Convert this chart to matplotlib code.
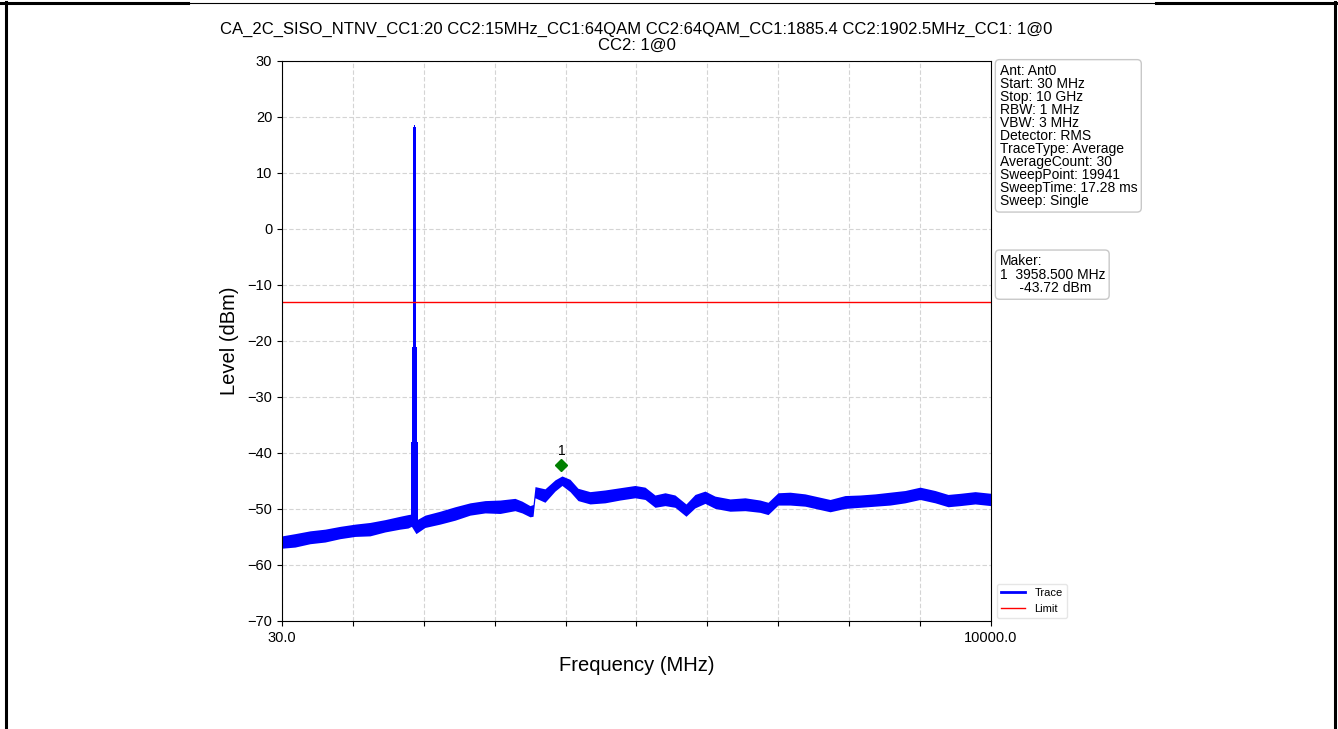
import matplotlib
matplotlib.use('Agg')
import matplotlib.pyplot as plt
from matplotlib.lines import Line2D
import numpy as np

plt.rcParams['font.family'] = ['Liberation Sans', 'DejaVu Sans']

# Noise floor of the sweep (MHz / dBm, upper and lower edge of the band)
trace_freq = [30, 213, 424, 635, 846, 1057, 1267, 1478, 1689, 1802,
              1850, 1914, 2041, 2252, 2463, 2674, 2885, 3096, 3306, 3405,
              3517, 3560, 3588, 3728, 3869, 3967, 4080, 4192, 4361, 4572,
              4783, 4994, 5135, 5275, 5416, 5556, 5711, 5838, 5978, 6119,
              6330, 6541, 6752, 6865, 7005, 7174, 7385, 7596, 7737, 7947,
              8158, 8369, 8580, 8791, 9002, 9213, 9396, 9565, 9776, 10000]
trace_high = [-54.8, -54.4, -53.9, -53.6, -53.1, -52.7, -52.4, -51.9, -51.3, -51.0,
              -50.9, -52.0, -51.1, -50.4, -49.6, -48.9, -48.5, -48.4, -48.1, -48.6,
              -49.4, -49.2, -46.0, -46.4, -44.8, -44.1, -44.7, -46.3, -46.9, -46.6,
              -46.2, -45.8, -46.1, -47.5, -47.1, -47.5, -49.1, -47.4, -46.8, -47.7,
              -48.2, -48.0, -48.4, -48.8, -47.1, -47.0, -47.3, -47.9, -48.3, -47.6,
              -47.5, -47.3, -47.0, -46.7, -46.1, -46.7, -47.4, -47.2, -46.9, -47.2]
trace_low = [-57.0, -56.8, -56.2, -55.9, -55.3, -54.9, -54.8, -54.1, -53.6, -53.4,
             -53.1, -54.4, -53.3, -52.7, -52.0, -51.1, -50.7, -50.8, -50.3, -50.7,
             -51.4, -51.3, -48.0, -48.8, -46.8, -45.8, -46.9, -48.5, -49.1, -48.9,
             -48.4, -48.0, -48.3, -49.7, -49.4, -49.7, -51.3, -49.8, -49.0, -49.9,
             -50.4, -50.3, -50.6, -51.0, -49.3, -49.3, -49.5, -50.1, -50.5, -49.9,
             -49.7, -49.5, -49.3, -48.9, -48.3, -48.9, -49.6, -49.4, -49.1, -49.4]

# carrier (CC1 1885.4 + CC2 1902.5 MHz)
spike_freq = [1843, 1860, 1878, 1893, 1908, 1926, 1943]
spike_level = [-38, -21, 18.2, 18.6, 18.2, -21, -38]
spike_base = -53

limit_level = -13
marker_freq = 3958.5
marker_level = -43.72

x_start, x_stop = 30.0, 10000.0
y_ticks = [30, 20, 10, 0, -10, -20, -30, -40, -50, -60, -70]

title = ('CA_2C_SISO_NTNV_CC1:20 CC2:15MHz_CC1:64QAM CC2:64QAM_CC1:1885.4 '
         'CC2:1902.5MHz_CC1: 1@0\nCC2: 1@0')
info_lines = ['Ant: Ant0', 'Start: 30 MHz', 'Stop: 10 GHz', 'RBW: 1 MHz', 'VBW: 3 MHz',
              'Detector: RMS', 'TraceType: Average', 'AverageCount: 30',
              'SweepPoint: 19941', 'SweepTime: 17.28 ms', 'Sweep: Single']
marker_lines = ['Maker:', '1  3958.500 MHz', '     -43.72 dBm']

W, H = 1338, 729
fig = plt.figure(figsize=(W / 100, H / 100), dpi=100)
ax = fig.add_axes([282 / W, 1 - 621 / H, 709 / W, 560 / H])

ax.fill_between(trace_freq, trace_low, trace_high, color='blue', lw=0)
ax.fill_between(spike_freq, spike_base, spike_level, step='mid', color='blue', lw=0)
ax.axhline(limit_level, color='red', lw=1)

ax.plot(marker_freq, marker_level + 1.6, 'D', color='green', markersize=6)
ax.annotate('1', (marker_freq, marker_level + 1.6), xytext=(0, 5), textcoords='offset points',
            ha='center', va='bottom', fontsize=10)

ax.set_xlim(x_start, x_stop)
ax.set_ylim(-70, 30)
xt = np.linspace(x_start, x_stop, 11)
ax.set_xticks(xt)
ax.set_xticklabels(['30.0'] + [''] * 9 + ['10000.0'], fontsize=10.5)
ax.set_yticks(y_ticks)
ax.tick_params(axis='y', labelsize=10.5)
ax.grid(True, color='#d4d4d4', linestyle=(0, (4, 2)), lw=0.8)
ax.set_axisbelow(True)

ax.set_xlabel('Frequency (MHz)', fontsize=14.5, labelpad=8)
ax.set_ylabel('Level (dBm)', fontsize=14.5, labelpad=6)
ax.set_title(title, fontsize=12, linespacing=1.1, pad=8)

box = dict(boxstyle='round,pad=0.3', fc='white', ec='#c8c8c8', lw=1)
ax.text(1.012, 0.995, '\n'.join(info_lines), transform=ax.transAxes, va='top', ha='left',
        fontsize=10, linespacing=0.91, bbox=box)
ax.text(1.012, 0.655, '\n'.join(marker_lines), transform=ax.transAxes, va='top', ha='left',
        fontsize=10, linespacing=0.95, bbox=box)

handles = [Line2D([], [], color='blue', lw=2), Line2D([], [], color='red', lw=1)]
ax.legend(handles, ['Trace', 'Limit'], loc='lower left', bbox_to_anchor=(1.0, -0.005),
          fontsize=8, handlelength=2.2, frameon=True, edgecolor='#e0e0e0')

# page frame around the screenshot
def frame(x0, y0, x1, y1, lw):
    fig.add_artist(Line2D([x0 / W, x1 / W], [1 - y0 / H, 1 - y1 / H], color='black', lw=lw))

frame(0, 3, 188, 3, 2.2)
frame(188, 3, 1156, 3, 0.8)
frame(1156, 3, 1338, 3, 2.2)
frame(6, 2, 6, 729, 2.2)
frame(1335, 2, 1335, 729, 2.2)

plt.savefig('out.png', dpi=100)
